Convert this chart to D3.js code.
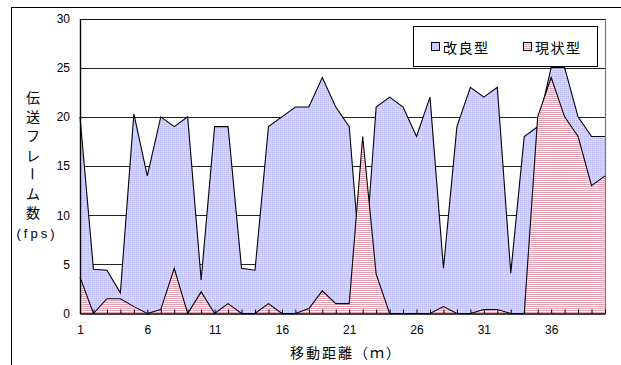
<!DOCTYPE html>
<html>
<head>
<meta charset="utf-8">
<script src="https://cdn.jsdelivr.net/npm/d3@7"></script>
<style>
  html, body { margin: 0; padding: 0; background: #fff; }
  svg { display: block; }
  text { font-family: "Liberation Sans", Arial, "Noto Sans CJK JP", sans-serif; fill: #000; }
  .jp { font-family: "Noto Sans CJK JP", "Noto Sans", sans-serif; }
</style>
</head>
<body>
<svg id="chart" width="621" height="365"></svg>
<script>
// Distance along the route (m)
const distances = [1,2,3,4,5,6,7,8,9,10,11,12,13,14,15,16,17,18,19,20,
                   21,22,23,24,25,26,27,28,29,30,31,32,33,34,35,36,37,38,39,40];
// Frames per second, improved design
const improved = [20,4.5,4.4,2.1,20.3,14,20,19,20,3.4,19,19,4.6,4.4,19,20,21,21,24,21,
                  19,2,21,22,21,18,22,4.6,19,23,22,23,4.1,18,19,25,25,20,18,18];
// Frames per second, current design
const current  = [3.7,0,1.5,1.5,0.7,0,0.4,4.6,0,2.2,0,1,0,0,1,0,0,0.5,2.3,1,
                  1,18,4,0,0,0,0,0.7,0,0,0.4,0.4,0,0,20,24,20,18,13,14];
const yTicks = [0,5,10,15,20,25,30];
const xTickLabels = [1,6,11,16,21,26,31,36];
const seriesNames = ["改良型","現状型"];

const svg = d3.select("#chart");
const plotL = 80, plotR = 605, plotT = 18.5, plotB = 313.5;

const x = d3.scalePoint().domain(distances).range([plotL, plotR]);
const y = d3.scaleLinear().domain([0, 30]).range([plotB, plotT]);

// fill patterns
const defs = svg.append("defs");
const pBlue = defs.append("pattern").attr("id", "dotBlue")
  .attr("patternUnits", "userSpaceOnUse").attr("width", 2).attr("height", 2);
pBlue.append("rect").attr("width", 2).attr("height", 2).attr("fill", "#cfcfff");
pBlue.append("rect").attr("width", 1).attr("height", 1).attr("fill", "#bdbdf8");
pBlue.append("rect").attr("x", 1).attr("y", 1).attr("width", 1).attr("height", 1).attr("fill", "#dcdcff");

const pPink = defs.append("pattern").attr("id", "hatchPink")
  .attr("patternUnits", "userSpaceOnUse").attr("width", 4).attr("height", 2);
pPink.append("rect").attr("width", 4).attr("height", 2).attr("fill", "#fff7f8");
pPink.append("rect").attr("width", 4).attr("height", 1).attr("fill", "#e3a3b2");

// outer chart frame
svg.append("rect").attr("x", 11.5).attr("y", 7.5).attr("width", 640).attr("height", 400)
  .attr("fill", "#fff").attr("stroke", "#000").attr("stroke-width", 1);

// plot background
svg.append("rect").attr("x", plotL).attr("y", plotT).attr("width", plotR - plotL).attr("height", plotB - plotT)
  .attr("fill", "#fff");

// horizontal gridlines
svg.append("g").selectAll("line").data(yTicks.filter(d => d > 0 && d < 30)).join("line")
  .attr("x1", plotL).attr("x2", plotR)
  .attr("y1", d => Math.round(y(d)) + 0.5).attr("y2", d => Math.round(y(d)) + 0.5)
  .attr("stroke", "#222").attr("stroke-width", 1);

// areas
const area = d3.area().x((d, i) => x(distances[i])).y0(y(0)).y1(d => y(d));
const line = d3.line().x((d, i) => x(distances[i])).y(d => y(d));

svg.append("path").datum(improved).attr("d", area).attr("fill", "url(#dotBlue)");
svg.append("path").datum(improved).attr("d", line).attr("fill", "none")
  .attr("stroke", "#000").attr("stroke-width", 1.1).attr("stroke-linejoin", "miter");
svg.append("path").datum(current).attr("d", area).attr("fill", "url(#hatchPink)");
svg.append("path").datum(current).attr("d", line).attr("fill", "none")
  .attr("stroke", "#000").attr("stroke-width", 1.1).attr("stroke-linejoin", "miter");

// plot border: top and right
svg.append("line").attr("x1", plotL).attr("x2", plotR).attr("y1", Math.round(plotT) + 0.5).attr("y2", Math.round(plotT) + 0.5)
  .attr("stroke", "#111").attr("stroke-width", 1.2);
svg.append("line").attr("x1", plotR + 0.5).attr("x2", plotR + 0.5).attr("y1", plotT).attr("y2", plotB)
  .attr("stroke", "#777").attr("stroke-width", 1.2);

// y axis
const yAxis = svg.append("g").attr("transform", `translate(${plotL},0)`)
  .call(d3.axisLeft(y).tickValues(yTicks).tickSize(0).tickPadding(10));
yAxis.select(".domain").attr("stroke", "#000").attr("stroke-width", 1.4);
yAxis.selectAll("text").attr("font-size", 12).attr("font-family", "Liberation Sans, Arial, sans-serif");

// x axis with inward ticks at every distance
const xAxis = svg.append("g").attr("transform", `translate(0,${plotB})`)
  .call(d3.axisBottom(x).tickSizeInner(-4).tickSizeOuter(0).tickPadding(12)
    .tickFormat(d => xTickLabels.includes(d) ? d : ""));
xAxis.select(".domain").attr("stroke", "#000").attr("stroke-width", 1.4);
xAxis.selectAll(".tick line").attr("stroke", "#000");
xAxis.selectAll("text").attr("font-size", 12).attr("font-family", "Liberation Sans, Arial, sans-serif");

// x axis title
svg.append("text").attr("class", "jp").attr("x", 346).attr("y", 358)
  .attr("text-anchor", "middle").attr("font-size", 14).attr("letter-spacing", 2)
  .text("移動距離（ｍ）");

// y axis title, stacked vertically
const yTitleChars = ["伝","送","フ","レ","ー","ム","数"];
const yt = svg.append("g");
yTitleChars.forEach((c, i) => {
  const cy = 97 + i * 19.2;
  const t = yt.append("text").attr("class", "jp").attr("x", 33).attr("y", cy)
    .attr("text-anchor", "middle").attr("dominant-baseline", "central")
    .attr("font-size", 14).text(c);
  if (c === "ー") t.attr("transform", `rotate(90,33,${cy})`);
});
yt.append("text").attr("x", 37).attr("y", 233).attr("text-anchor", "middle")
  .attr("dominant-baseline", "central").attr("font-size", 13).attr("letter-spacing", 3)
  .text("(fps)");

// legend
const lg = svg.append("g");
lg.append("rect").attr("x", 413.5).attr("y", 26.5).attr("width", 184).attr("height", 40)
  .attr("fill", "#fff").attr("stroke", "#000").attr("stroke-width", 1);
const legendItems = [
  { name: seriesNames[0], fill: "url(#dotBlue)", sx: 431, tx: 443 },
  { name: seriesNames[1], fill: "url(#hatchPink)", sx: 523, tx: 535 }
];
legendItems.forEach(it => {
  lg.append("rect").attr("x", it.sx + 0.5).attr("y", 42.5).attr("width", 8).attr("height", 8)
    .attr("fill", it.fill).attr("stroke", "#000").attr("stroke-width", 1);
  lg.append("text").attr("class", "jp").attr("x", it.tx).attr("y", 47)
    .attr("dominant-baseline", "central").attr("font-size", 14).attr("letter-spacing", 1.5)
    .text(it.name);
});
</script>
</body>
</html>
